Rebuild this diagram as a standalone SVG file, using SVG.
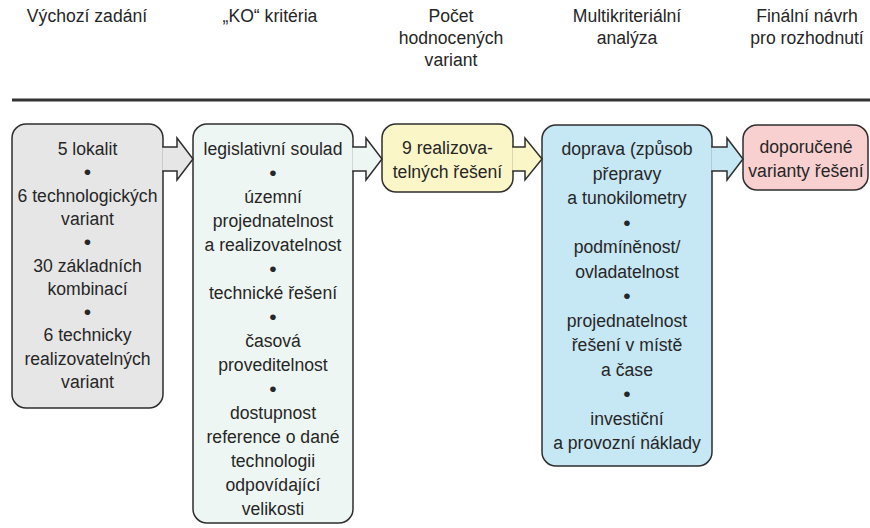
<svg xmlns="http://www.w3.org/2000/svg" width="870" height="528" viewBox="0 0 870 528">
<style>
text{font-family:"Liberation Sans",Arial,sans-serif;font-size:17.6px;fill:#262626;text-anchor:middle}
text.b{font-size:21px}
.box{stroke:#2e2e2e;stroke-width:1.5}
.arr{stroke:#2e2e2e;stroke-width:1.5;stroke-linejoin:miter}
.gray{fill:#e6e6e6}
.mint{fill:#eef6f3}
.yel{fill:#fbf6c8}
.blue{fill:#c6e7f4}
.pink{fill:#f8d0d0}
</style>
<rect width="870" height="528" fill="#fff"/>
<g id="headers">
<text x="87" y="22">Výchozí zadání</text>
<text x="270" y="22">„KO“ kritéria</text>
<text x="451" y="22">Počet</text>
<text x="451" y="44">hodnocených</text>
<text x="451" y="66">variant</text>
<text x="627" y="22">Multikriteriální</text>
<text x="627" y="44">analýza</text>
<text x="807" y="22">Finální návrh</text>
<text x="807" y="44">pro rozhodnutí</text>
<rect x="12" y="98.5" width="858" height="3" fill="#333"/>
</g>
<g id="node-vychozi">
<rect class="box gray" x="12" y="124" width="151" height="284" rx="14"/>
<text x="87.5" y="155">5 lokalit</text>
<text class="b" x="87.5" y="179.3">•</text>
<text x="87.5" y="201.6">6 technologických</text>
<text x="87.5" y="224.9">variant</text>
<text class="b" x="87.5" y="249.2">•</text>
<text x="87.5" y="271.5">30 základních</text>
<text x="87.5" y="294.8">kombinací</text>
<text class="b" x="87.5" y="319.1">•</text>
<text x="87.5" y="341.4">6 technicky</text>
<text x="87.5" y="364.7">realizovatelných</text>
<text x="87.5" y="388">variant</text>
</g>
<g id="node-ko">
<rect class="box mint" x="193" y="124" width="160" height="399" rx="14"/>
<text x="273" y="155">legislativní soulad</text>
<text class="b" x="273" y="180">•</text>
<text x="273" y="203">územní</text>
<text x="273" y="227">projednatelnost</text>
<text x="273" y="251">a realizovatelnost</text>
<text class="b" x="273" y="276">•</text>
<text x="273" y="299">technické řešení</text>
<text class="b" x="273" y="324">•</text>
<text x="273" y="347">časová</text>
<text x="273" y="371">proveditelnost</text>
<text class="b" x="273" y="396">•</text>
<text x="273" y="419">dostupnost</text>
<text x="273" y="443">reference o dané</text>
<text x="273" y="467">technologii</text>
<text x="273" y="491">odpovídající</text>
<text x="273" y="515">velikosti</text>
</g>
<g id="node-pocet">
<rect class="box yel" x="382" y="124" width="131" height="68" rx="14"/>
<text x="447.5" y="154">9 realizova-</text>
<text x="447.5" y="178">telných řešení</text>
</g>
<g id="node-multi">
<rect class="box blue" x="542" y="125" width="170" height="341" rx="14"/>
<text x="627" y="155">doprava (způsob</text>
<text x="627" y="179.5">přepravy</text>
<text x="627" y="204">a tunokilometry</text>
<text class="b" x="627" y="229.5">•</text>
<text x="627" y="253">podmíněnost/</text>
<text x="627" y="277.5">ovladatelnost</text>
<text class="b" x="627" y="303">•</text>
<text x="627" y="326.5">projednatelnost</text>
<text x="627" y="351">řešení v místě</text>
<text x="627" y="375.5">a čase</text>
<text class="b" x="627" y="401">•</text>
<text x="627" y="424.5">investiční</text>
<text x="627" y="449">a provozní náklady</text>
</g>
<g id="node-final">
<rect class="box pink" x="743" y="125" width="125" height="65" rx="14"/>
<text x="806" y="153">doporučené</text>
<text x="806" y="177">varianty řešení</text>
</g>
<g id="connectors">
<path class="arr gray" d="M162.2,147 H177 V138 L193,159 L177,180 V171 H162.2"/>
<path class="arr mint" d="M352.2,147 H366 V138 L382,159 L366,180 V171 H352.2"/>
<path class="arr yel" d="M512.2,147 H525 V138 L542,159 L525,180 V171 H512.2"/>
<path class="arr blue" d="M711.2,147 H727 V138 L743,159 L727,180 V171 H711.2"/>
</g>
</svg>
